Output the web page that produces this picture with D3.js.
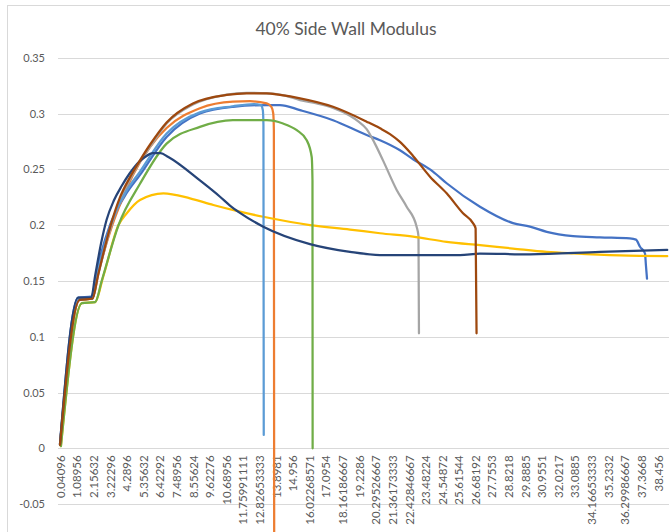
<!DOCTYPE html>
<html>
<head>
<meta charset="utf-8">
<script src="https://cdn.jsdelivr.net/npm/d3@7"></script>
<style>
  html, body { margin: 0; padding: 0; background: #fff; }
  svg { display: block; }
  text { font-family: Lato, "Open Sans", sans-serif; fill: #595959; }
</style>
</head>
<body>
<svg id="chart" width="670" height="532"></svg>
<script>
// Category labels along the bottom axis (elapsed time values)
const xLabels = ["0.04096","1.08956","2.15632","3.22296","4.2896","5.35632","6.42292","7.48956",
  "8.55624","9.62276","10.68956","11.75991111","12.82653333","13.8981","14.956","16.02268571",
  "17.0954","18.16186667","19.2286","20.29526667","21.36173333","22.42846667","23.48224","24.54872",
  "25.61544","26.68192","27.7553","28.8218","29.8885","30.9551","32.0217","33.0885","34.16653333",
  "35.2332","36.29986667","37.3668","38.456"];

// Value axis ticks
const yTicks = [-0.05, 0, 0.05, 0.1, 0.15, 0.2, 0.25, 0.3, 0.35];
const yTickLabels = ["-0.05","0","0.05","0.1","0.15","0.2","0.25","0.3","0.35"];

// Series, each as [time, modulus] pairs
const series1 = [[0.041,0.004],[1.2,0.135],[2.05,0.136],[2.5,0.165],[3.25,0.2],[4.2,0.226],[5.18,0.245],
  [6.89,0.279],[9.03,0.3],[11.15,0.306],[13.32,0.3076],[14.17,0.3076],[15.46,0.303],[17.58,0.294],
  [19.74,0.2807],[20.6,0.276],[21.88,0.267],[22.72,0.259],[24.0,0.248],[24.88,0.2375],[27.02,0.2165],
  [29.14,0.2018],[30.23,0.1986],[31.31,0.194],[33.0,0.1902],[34.73,0.189],[36.65,0.188],[37.04,0.187],
  [37.3,0.1806],[37.62,0.1747],[37.68,0.164],[37.75,0.152]];
const series2 = [[0.041,0.003],[1.3,0.133],[2.12,0.134],[2.5,0.157],[3.4,0.2],[4.0,0.222],[4.73,0.245],
  [5.82,0.27],[6.89,0.287],[9.03,0.3047],[11.15,0.3106],[12.25,0.311],[13.32,0.309],[13.62,0.306],
  [13.74,0.3],[13.78,0.285],[13.8,-0.08]];
const series3 = [[0.041,0.003],[1.3,0.133],[2.12,0.134],[2.5,0.156],[3.35,0.2],[3.9,0.223],[4.54,0.241],
  [5.18,0.257],[5.82,0.27],[6.89,0.291],[8.58,0.308],[10.75,0.317],[12.03,0.3185],[13.32,0.318],
  [14.5,0.316],[15.46,0.312],[16.53,0.309],[17.58,0.305],[18.67,0.298],[19.2,0.293],[19.74,0.286],
  [20.27,0.273],[20.79,0.258],[21.67,0.2315],[22.31,0.2165],[22.95,0.1986],[23.07,0.19],[23.1,0.103]];
const series4 = [[0.1,0.002],[1.45,0.13],[2.3,0.131],[2.82,0.154],[3.8,0.2],[4.33,0.2106],[5.18,0.2225],
  [6.68,0.2285],[8.39,0.224],[9.89,0.218],[11.6,0.212],[13.1,0.2075],[16.1,0.2],[18.67,0.196],
  [20.6,0.1927],[22.72,0.1896],[24.88,0.185],[27.02,0.182],[29.14,0.179],[31.31,0.176],[33.0,0.1746],
  [36.0,0.1728],[39.05,0.1722]];
const series5 = [[0.041,0.003],[1.28,0.134],[2.1,0.134],[2.5,0.16],[3.3,0.2],[4.2,0.228],[5.18,0.248],
  [6.89,0.282],[9.03,0.301],[11.15,0.3065],[12.5,0.3085],[12.95,0.3075],[13.07,0.303],[13.11,0.29],
  [13.13,0.012]];
const series6 = [[0.1,0.002],[1.45,0.13],[2.3,0.131],[2.72,0.15],[3.8,0.2],[5.18,0.237],
  [6.89,0.273],[9.03,0.288],[11.15,0.294],[13.32,0.294],[14.37,0.291],[15.25,0.285],[15.89,0.276],
  [16.21,0.261],[16.26,0.24],[16.27,0.0]];
const series7 = [[0.041,0.004],[1.2,0.135],[2.05,0.135],[2.29,0.154],[2.7,0.185],[3.04,0.205],[3.5,0.222],
  [4.0,0.235],[4.5,0.246],[5.0,0.255],[5.5,0.261],[6.0,0.2645],[6.5,0.2645],[7.0,0.261],[9.03,0.24],
  [10.32,0.2254],[10.96,0.2175],[11.6,0.211],[13.1,0.1986],[16.1,0.183],[18.67,0.176],[20.6,0.1732],
  [25.74,0.1732],[27.02,0.1745],[30.23,0.1738],[34.73,0.176],[39.05,0.1777]];
const series8 = [[0.041,0.003],[1.3,0.133],[2.12,0.134],[2.5,0.156],[3.3,0.2],[3.9,0.225],[4.54,0.243],
  [5.18,0.258],[5.82,0.272],[6.89,0.292],[8.58,0.309],[10.75,0.3166],[12.03,0.318],[13.32,0.318],
  [14.17,0.3166],[15.46,0.3136],[17.58,0.306],[19.74,0.2927],[20.6,0.2867],[21.24,0.2815],
  [21.88,0.2745],[22.72,0.262],[23.81,0.2434],[24.88,0.2285],[25.93,0.2106],[26.57,0.2018],
  [26.74,0.197],[26.8,0.103]];

const seriesList = [series1, series2, series3, series4, series5, series6, series7, series8];
const colors = ["#4472C4","#ED7D31","#A5A5A5","#FFC000","#5B9BD5","#70AD47","#264478","#9E480E"];

const svg = d3.select("#chart");
const plotLeft = 58, plotRight = 669;

const x = d3.scaleLinear().domain([+xLabels[0], +xLabels[xLabels.length - 1]]).range([60, 658]);
const y = d3.scaleLinear().domain([-0.05, 0.35]).range([504.1, 57.7]);

// Outer chart frame
svg.append("rect")
  .attr("x", 7.5).attr("y", 5.5).attr("width", 700).attr("height", 600)
  .attr("fill", "none").attr("stroke", "#d9d9d9");

// Title
svg.append("text")
  .attr("x", 346).attr("y", 35)
  .attr("text-anchor", "middle")
  .style("font-size", "17.5px")
  .text("40% Side Wall Modulus");

// Horizontal gridlines
svg.append("g").selectAll("line").data(yTicks).join("line")
  .attr("x1", plotLeft).attr("x2", plotRight)
  .attr("y1", d => Math.round(y(d)) + 0.5).attr("y2", d => Math.round(y(d)) + 0.5)
  .attr("stroke", "#d9d9d9").attr("stroke-width", 1);

// Value axis labels
const yAxis = d3.axisLeft(y).tickValues(yTicks)
  .tickFormat((d, i) => yTickLabels[i]).tickSize(0).tickPadding(0);
const gy = svg.append("g").attr("transform", "translate(45,0)").call(yAxis);
gy.select(".domain").remove();
gy.selectAll("text").style("font-size", "11px").style("font-family", "Lato, sans-serif").attr("fill", "#595959");

// Category axis labels, rotated
const xAxis = d3.axisBottom(x).tickValues(xLabels.map(Number))
  .tickFormat((d, i) => xLabels[i]).tickSize(0).tickPadding(0);
const gx = svg.append("g").attr("transform", `translate(0,${y(0)})`).call(xAxis);
gx.select(".domain").remove();
gx.selectAll("text")
  .style("font-size", "11.5px").style("font-family", "Lato, sans-serif").attr("fill", "#595959")
  .attr("text-anchor", "end")
  .attr("dy", null)
  .attr("y", 0)
  .attr("transform", "translate(0,7) rotate(-90)")
  .attr("dominant-baseline", "central");

// Series lines
const line = d3.line()
  .x(d => x(d[0]))
  .y(d => y(d[1]))
  .curve(d3.curveMonotoneX);

svg.append("g").selectAll("path").data(seriesList).join("path")
  .attr("d", line)
  .attr("fill", "none")
  .attr("stroke", (d, i) => colors[i])
  .attr("stroke-width", 2.25)
  .attr("stroke-linejoin", "round")
  .attr("stroke-linecap", "round");
</script>
</body>
</html>
